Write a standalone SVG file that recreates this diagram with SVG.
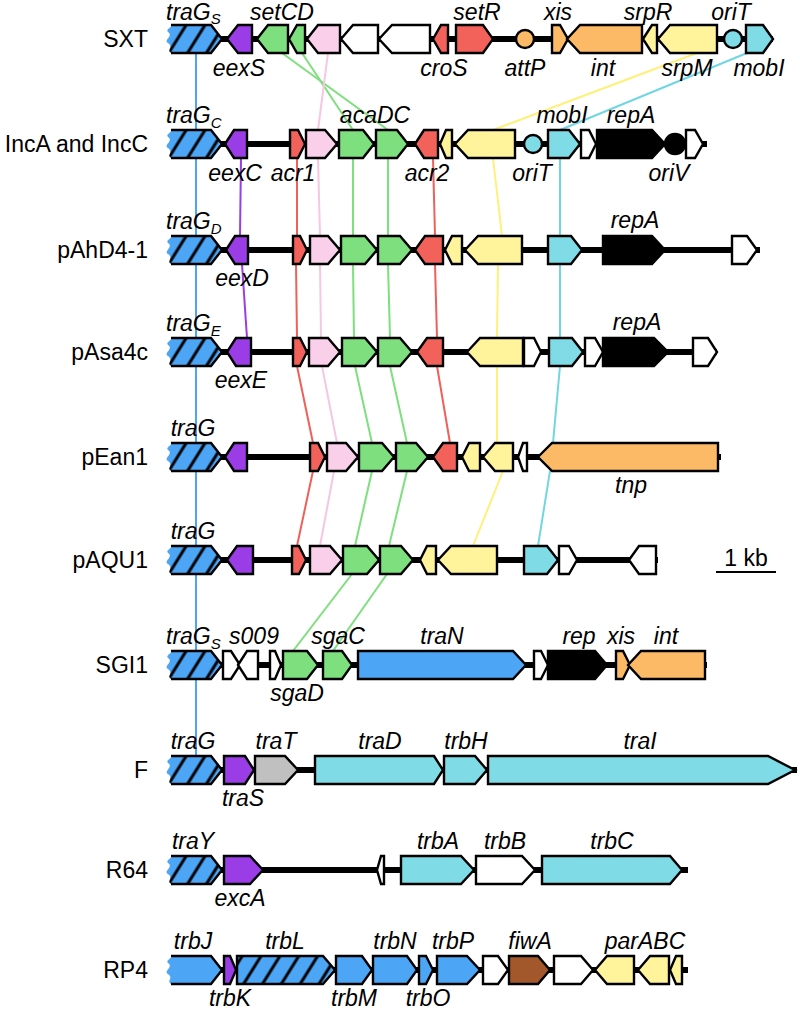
<svg xmlns="http://www.w3.org/2000/svg" xmlns:xlink="http://www.w3.org/1999/xlink" width="800" height="1012" viewBox="0 0 800 1012">
<style>
.g{stroke:#000;stroke-width:2.4;stroke-linejoin:miter}
.bb{stroke:#000;stroke-width:6}
.bl{fill:#4da6f5}.pu{fill:#9a3de6}.gr{fill:#7ddf7d}.pk{fill:#f9cfe9}.rd{fill:#f3615b}
.or{fill:#fdba66}.ye{fill:#fff39c}.cy{fill:#7fdbe5}.wh{fill:#fff}.bk{fill:#000}.gy{fill:#c0c0c0}.br{fill:#a3582b}
.hatch{fill:url(#hatch)}
.lab{font-family:"Liberation Sans",Arial,sans-serif;font-style:italic;font-size:23px;text-anchor:middle;fill:#000}
.st{text-anchor:start}
.row{font-family:"Liberation Sans",Arial,sans-serif;font-size:23px;text-anchor:end;fill:#000}
.c{fill:none;stroke-width:2}
.cb{stroke:#4da6f5}.cp{stroke:#9a3de6}.cr{stroke:#f0605a}.ck{stroke:#f7c6e2}.cg{stroke:#7ddf7d}.cyl{stroke:#fff07a}.cc{stroke:#72d6e2}
</style>
<defs>
<pattern id="hatch" patternUnits="userSpaceOnUse" width="16" height="16" patternTransform="rotate(32)">
<rect width="16" height="16" fill="#4da6f5"/>
<line x1="8" y1="0" x2="8" y2="16" stroke="#000" stroke-width="3"/>
</pattern>
<g id="tra">
<path stroke="none" d="M3,-14 L43,-14 L54,0 L43,14 L3,14 C-2,11 6,8 0,4 C-5,1 6,-3 0,-7 C-3,-10 5,-12 3,-14 Z"/>
<path d="M3,-14 L43,-14 L54,0 L43,14 L3,14" fill="none" stroke="#000" stroke-width="2.4"/>
</g>
</defs>
<rect width="800" height="1012" fill="#fff"/>

<g id="connectors" class="c">
<line class="cb" x1="196" y1="40" x2="196" y2="770"/>
<line class="cp" x1="241" y1="158" x2="240" y2="236"/>
<line class="cp" x1="242" y1="264" x2="247" y2="338"/>
<line class="cg" x1="282" y1="53" x2="388" y2="130"/>
<line class="cg" x1="302" y1="53" x2="353" y2="130"/>
<line class="ck" x1="328" y1="53" x2="318" y2="130"/>
<line class="cyl" x1="697" y1="53" x2="493" y2="130"/>
<line class="cc" x1="747" y1="53" x2="560" y2="130"/>
<line class="cr" x1="297" y1="158" x2="297" y2="236"/>
<line class="ck" x1="318" y1="158" x2="320" y2="236"/>
<line class="cg" x1="353" y1="158" x2="353" y2="236"/>
<line class="cg" x1="388" y1="158" x2="388" y2="236"/>
<line class="cr" x1="433" y1="158" x2="435" y2="236"/>
<line class="cyl" x1="493" y1="158" x2="502" y2="236"/>
<line class="cc" x1="560" y1="158" x2="560" y2="236"/>
<line class="cr" x1="296" y1="264" x2="297" y2="338"/>
<line class="ck" x1="320" y1="264" x2="321" y2="338"/>
<line class="cg" x1="353" y1="264" x2="354" y2="338"/>
<line class="cg" x1="388" y1="264" x2="390" y2="338"/>
<line class="cr" x1="435" y1="264" x2="437" y2="338"/>
<line class="cyl" x1="498" y1="264" x2="497" y2="338"/>
<line class="cc" x1="560" y1="264" x2="560" y2="338"/>
<line class="cr" x1="297" y1="366" x2="313" y2="443"/>
<line class="ck" x1="322" y1="366" x2="337" y2="443"/>
<line class="cg" x1="355" y1="366" x2="372" y2="443"/>
<line class="cg" x1="390" y1="366" x2="407" y2="443"/>
<line class="cr" x1="437" y1="366" x2="450" y2="443"/>
<line class="cyl" x1="497" y1="366" x2="497" y2="443"/>
<line class="cc" x1="560" y1="366" x2="553" y2="443"/>
<line class="cr" x1="313" y1="471" x2="297" y2="546"/>
<line class="ck" x1="334" y1="471" x2="320" y2="546"/>
<line class="cg" x1="372" y1="471" x2="355" y2="546"/>
<line class="cg" x1="407" y1="471" x2="389" y2="546"/>
<line class="cyl" x1="503" y1="471" x2="473" y2="546"/>
<line class="cc" x1="550" y1="471" x2="538" y2="546"/>
<line class="cg" x1="352" y1="574" x2="293" y2="651"/>
<line class="cg" x1="387" y1="574" x2="333" y2="651"/>
</g>

<g id="SXT">
<text class="row" x="148" y="47">SXT</text>
<line class="bb" x1="175" y1="39" x2="773" y2="39"/>
<use xlink:href="#tra" href="#tra" x="168" y="39" class="hatch"/>
<polygon class="g pu" points="227,39 238,25 252,25 252,53 238,53"/>
<polygon class="g gr" points="257,39 268,25 288,25 288,53 268,53"/>
<polygon class="g gr" points="289,39 297,25 305,25 305,53 297,53"/>
<polygon class="g pk" points="307,39 318,25 340,25 340,53 318,53"/>
<polygon class="g wh" points="341,39 353,25 378,25 378,53 353,53"/>
<polygon class="g wh" points="379,39 392,25 430,25 430,53 392,53"/>
<polygon class="g rd" points="433,39 441,25 448,25 448,53 441,53"/>
<polygon class="g rd" points="456,25 483,25 493,39 483,53 456,53"/>
<circle class="g or" cx="525" cy="39" r="9"/>
<polygon class="g or" points="552,25 560,25 568,39 560,53 552,53"/>
<polygon class="g or" points="567,39 580,25 642,25 642,53 580,53"/>
<polygon class="g ye" points="643,39 652,25 657,25 657,53 652,53"/>
<polygon class="g ye" points="658,39 670,25 717,25 717,53 670,53"/>
<circle class="g cy" cx="733" cy="39" r="9"/>
<polygon class="g cy" points="746,25 763,25 773,39 763,53 746,53"/>
<text class="lab st" x="166" y="20">traG<tspan dy="4" font-size="15">S</tspan></text>
<text class="lab" x="282" y="20">setCD</text>
<text class="lab" x="239" y="76">eexS</text>
<text class="lab" x="444" y="76">croS</text>
<text class="lab" x="477" y="20">setR</text>
<text class="lab" x="525" y="76">attP</text>
<text class="lab" x="558" y="20">xis</text>
<text class="lab" x="603" y="76">int</text>
<text class="lab" x="648" y="20">srpR</text>
<text class="lab" x="687" y="76">srpM</text>
<text class="lab" x="731" y="20">oriT</text>
<text class="lab" x="759" y="76">mobI</text>
</g>

<g id="IncAC">
<text class="row" x="148" y="152">IncA and IncC</text>
<line class="bb" x1="175" y1="144" x2="707" y2="144"/>
<use xlink:href="#tra" href="#tra" x="168" y="144" class="hatch"/>
<polygon class="g pu" points="225,144 234,130 247,130 247,158 234,158"/>
<polygon class="g rd" points="290,130 298,130 305,144 298,158 290,158"/>
<polygon class="g pk" points="306,130 325,130 337,144 325,158 306,158"/>
<polygon class="g gr" points="339,130 363,130 374,144 363,158 339,158"/>
<polygon class="g gr" points="376,130 397,130 408,144 397,158 376,158"/>
<polygon class="g rd" points="415,144 424,130 438,130 438,158 424,158"/>
<polygon class="g ye" points="440,144 446,130 452,130 452,158 446,158"/>
<polygon class="g ye" points="455,144 468,130 515,130 515,158 468,158"/>
<circle class="g cy" cx="533" cy="144" r="9"/>
<polygon class="g cy" points="548,130 569,130 580,144 569,158 548,158"/>
<polygon class="g wh" points="581,130 589,130 596,144 589,158 581,158"/>
<polygon class="g bk" points="597,130 652,130 665,144 652,158 597,158"/>
<circle class="g bk" cx="675" cy="144" r="10"/>
<polygon class="g wh" points="686,130 695,130 703,144 695,158 686,158"/>
<text class="lab st" x="166" y="123">traG<tspan dy="5" font-size="15">C</tspan></text>
<text class="lab" x="235" y="181">eexC</text>
<text class="lab" x="293" y="181">acr1</text>
<text class="lab" x="375" y="123">acaDC</text>
<text class="lab" x="427" y="181">acr2</text>
<text class="lab" x="562" y="123">mobI</text>
<text class="lab" x="631" y="123">repA</text>
<text class="lab" x="532" y="181">oriT</text>
<text class="lab" x="669" y="181">oriV</text>
</g>

<g id="pAhD4-1">
<text class="row" x="148" y="258">pAhD4-1</text>
<line class="bb" x1="175" y1="250" x2="760" y2="250"/>
<use xlink:href="#tra" href="#tra" x="168" y="250" class="hatch"/>
<polygon class="g pu" points="226,250 235,236 248,236 248,264 235,264"/>
<polygon class="g rd" points="293,236 300,236 307,250 300,264 293,264"/>
<polygon class="g pk" points="310,236 328,236 340,250 328,264 310,264"/>
<polygon class="g gr" points="341,236 365,236 377,250 365,264 341,264"/>
<polygon class="g gr" points="378,236 400,236 412,250 400,264 378,264"/>
<polygon class="g rd" points="415,250 425,236 443,236 443,264 425,264"/>
<polygon class="g ye" points="445,250 452,236 462,236 462,264 452,264"/>
<polygon class="g ye" points="465,250 478,236 522,236 522,264 478,264"/>
<polygon class="g cy" points="548,236 571,236 582,250 571,264 548,264"/>
<polygon class="g bk" points="603,236 652,236 665,250 652,264 603,264"/>
<polygon class="g wh" points="732,236 747,236 757,250 747,264 732,264"/>
<text class="lab st" x="166" y="229">traG<tspan dy="5" font-size="15">D</tspan></text>
<text class="lab" x="242" y="286">eexD</text>
<text class="lab" x="635" y="228">repA</text>
</g>

<g id="pAsa4c">
<text class="row" x="148" y="360">pAsa4c</text>
<line class="bb" x1="175" y1="352" x2="717" y2="352"/>
<use xlink:href="#tra" href="#tra" x="168" y="352" class="hatch"/>
<polygon class="g pu" points="227,352 236,338 251,338 251,366 236,366"/>
<polygon class="g rd" points="293,338 300,338 307,352 300,366 293,366"/>
<polygon class="g pk" points="309,338 328,338 340,352 328,366 309,366"/>
<polygon class="g gr" points="342,338 365,338 377,352 365,366 342,366"/>
<polygon class="g gr" points="378,338 400,338 412,352 400,366 378,366"/>
<polygon class="g rd" points="417,352 427,338 443,338 443,366 427,366"/>
<polygon class="g ye" points="467,352 480,338 523,338 523,366 480,366"/>
<polygon class="g wh" points="524,338 534,338 541,352 534,366 524,366"/>
<polygon class="g cy" points="549,338 572,338 583,352 572,366 549,366"/>
<polygon class="g wh" points="585,338 595,338 603,352 595,366 585,366"/>
<polygon class="g bk" points="603,338 654,338 668,352 654,366 603,366"/>
<polygon class="g wh" points="693,338 708,338 717,352 708,366 693,366"/>
<text class="lab st" x="166" y="331">traG<tspan dy="5" font-size="15">E</tspan></text>
<text class="lab" x="241" y="388">eexE</text>
<text class="lab" x="637" y="330">repA</text>
</g>

<g id="pEan1">
<text class="row" x="148" y="465">pEan1</text>
<line class="bb" x1="175" y1="457" x2="721" y2="457"/>
<use xlink:href="#tra" href="#tra" x="168" y="457" class="hatch"/>
<polygon class="g pu" points="225,457 234,443 247,443 247,471 234,471"/>
<polygon class="g rd" points="310,443 318,443 325,457 318,471 310,471"/>
<polygon class="g pk" points="327,443 346,443 358,457 346,471 327,471"/>
<polygon class="g gr" points="359,443 382,443 394,457 382,471 359,471"/>
<polygon class="g gr" points="396,443 416,443 428,457 416,471 396,471"/>
<polygon class="g rd" points="433,457 443,443 457,443 457,471 443,471"/>
<polygon class="g ye" points="462,457 469,443 480,443 480,471 469,471"/>
<polygon class="g ye" points="483,457 495,443 513,443 513,471 495,471"/>
<polygon class="g wh" points="518,457 523,443 527,443 527,471 523,471"/>
<polygon class="g or" points="538,457 552,443 718,443 718,471 552,471"/>
<text class="lab" x="193" y="436">traG</text>
<text class="lab" x="631" y="493">tnp</text>
</g>

<g id="pAQU1">
<text class="row" x="148" y="568">pAQU1</text>
<line class="bb" x1="175" y1="560" x2="658" y2="560"/>
<use xlink:href="#tra" href="#tra" x="168" y="560" class="hatch"/>
<polygon class="g pu" points="227,560 237,546 253,546 253,574 237,574"/>
<polygon class="g rd" points="292,546 299,546 306,560 299,574 292,574"/>
<polygon class="g pk" points="310,546 330,546 342,560 330,574 310,574"/>
<polygon class="g gr" points="343,546 367,546 379,560 367,574 343,574"/>
<polygon class="g gr" points="380,546 401,546 413,560 401,574 380,574"/>
<polygon class="g ye" points="420,560 427,546 436,546 436,574 427,574"/>
<polygon class="g ye" points="438,560 451,546 497,546 497,574 451,574"/>
<polygon class="g cy" points="524,546 547,546 558,560 547,574 524,574"/>
<polygon class="g wh" points="559,546 569,546 577,560 569,574 559,574"/>
<polygon class="g wh" points="629,560 639,546 656,546 656,574 639,574"/>
<text class="lab" x="193" y="539">traG</text>
</g>

<g id="scalebar">
<text class="row" x="746" y="566" style="text-anchor:middle">1 kb</text>
<line x1="716" y1="572" x2="776" y2="572" stroke="#000" stroke-width="2"/>
</g>

<g id="SGI1">
<text class="row" x="148" y="673">SGI1</text>
<line class="bb" x1="175" y1="665" x2="707" y2="665"/>
<use xlink:href="#tra" href="#tra" x="168" y="665" class="hatch"/>
<polygon class="g wh" points="223,651 231,651 240,665 231,679 223,679"/>
<polygon class="g wh" points="238,665 247,651 258,651 258,679 247,679"/>
<polygon class="g wh" points="270,651 275,651 281,665 275,679 270,679"/>
<polygon class="g gr" points="283,651 307,651 318,665 307,679 283,679"/>
<polygon class="g gr" points="323,651 342,651 352,665 342,679 323,679"/>
<polygon class="g bl" points="358,651 513,651 526,665 513,679 358,679"/>
<polygon class="g wh" points="534,651 541,651 548,665 541,679 534,679"/>
<polygon class="g bk" points="548,651 595,651 607,665 595,679 548,679"/>
<polygon class="g or" points="616,651 623,651 630,665 623,679 616,679"/>
<polygon class="g or" points="628,665 641,651 705,651 705,679 641,679"/>
<text class="lab st" x="166" y="644">traG<tspan dy="5" font-size="15">S</tspan></text>
<text class="lab" x="254" y="644">s009</text>
<text class="lab" x="338" y="644">sgaC</text>
<text class="lab" x="442" y="644">traN</text>
<text class="lab" x="297" y="701">sgaD</text>
<text class="lab" x="579" y="644">rep</text>
<text class="lab" x="621" y="644">xis</text>
<text class="lab" x="666" y="644">int</text>
</g>

<g id="F">
<text class="row" x="148" y="778">F</text>
<line class="bb" x1="175" y1="770" x2="797" y2="770"/>
<use xlink:href="#tra" href="#tra" x="168" y="770" class="hatch"/>
<polygon class="g pu" points="224,756 245,756 254,770 245,784 224,784"/>
<polygon class="g gy" points="255,756 285,756 298,770 285,784 255,784"/>
<polygon class="g cy" points="315,756 434,756 443,770 434,784 315,784"/>
<polygon class="g cy" points="444,756 475,756 487,770 475,784 444,784"/>
<polygon class="g cy" points="488,756 768,756 795,770 768,784 488,784"/>
<text class="lab" x="193" y="749">traG</text>
<text class="lab" x="243" y="806">traS</text>
<text class="lab" x="276" y="749">traT</text>
<text class="lab" x="380" y="749">traD</text>
<text class="lab" x="466" y="749">trbH</text>
<text class="lab" x="640" y="749">traI</text>
</g>

<g id="R64">
<text class="row" x="148" y="878">R64</text>
<line class="bb" x1="175" y1="870" x2="688" y2="870"/>
<use xlink:href="#tra" href="#tra" x="168" y="870" class="hatch"/>
<polygon class="g pu" points="224,856 250,856 263,870 250,884 224,884"/>
<polygon class="g wh" points="377,870 381,856 384,856 384,884 381,884"/>
<polygon class="g cy" points="401,856 461,856 474,870 461,884 401,884"/>
<polygon class="g wh" points="476,856 522,856 535,870 522,884 476,884"/>
<polygon class="g cy" points="542,856 670,856 682,870 670,884 542,884"/>
<text class="lab" x="193" y="849">traY</text>
<text class="lab" x="240" y="906">excA</text>
<text class="lab" x="438" y="849">trbA</text>
<text class="lab" x="505" y="849">trbB</text>
<text class="lab" x="612" y="849">trbC</text>
</g>

<g id="RP4">
<text class="row" x="148" y="978">RP4</text>
<line class="bb" x1="175" y1="970" x2="688" y2="970"/>
<use xlink:href="#tra" href="#tra" x="168" y="970" class="bl"/>
<polygon class="g pu" points="224,956 230,956 236,970 230,984 224,984"/>
<polygon class="g hatch" points="237,956 323,956 335,970 323,984 237,984"/>
<polygon class="g bl" points="336,956 362,956 372,970 362,984 336,984"/>
<polygon class="g bl" points="373,956 407,956 417,970 407,984 373,984"/>
<polygon class="g bl" points="419,956 426,956 433,970 426,984 419,984"/>
<polygon class="g bl" points="437,956 467,956 480,970 467,984 437,984"/>
<polygon class="g wh" points="483,956 498,956 508,970 498,984 483,984"/>
<polygon class="g br" points="509,956 538,956 550,970 538,984 509,984"/>
<polygon class="g wh" points="554,956 581,956 593,970 581,984 554,984"/>
<polygon class="g ye" points="595,970 607,956 634,956 634,984 607,984"/>
<polygon class="g ye" points="638,970 650,956 669,956 669,984 650,984"/>
<polygon class="g ye" points="670,970 676,956 682,956 682,984 676,984"/>
<text class="lab" x="193" y="949">trbJ</text>
<text class="lab" x="230" y="1006">trbK</text>
<text class="lab" x="285" y="949">trbL</text>
<text class="lab" x="354" y="1006">trbM</text>
<text class="lab" x="395" y="949">trbN</text>
<text class="lab" x="428" y="1006">trbO</text>
<text class="lab" x="453" y="949">trbP</text>
<text class="lab" x="530" y="949">fiwA</text>
<text class="lab" x="645" y="949">parABC</text>
</g>
</svg>
